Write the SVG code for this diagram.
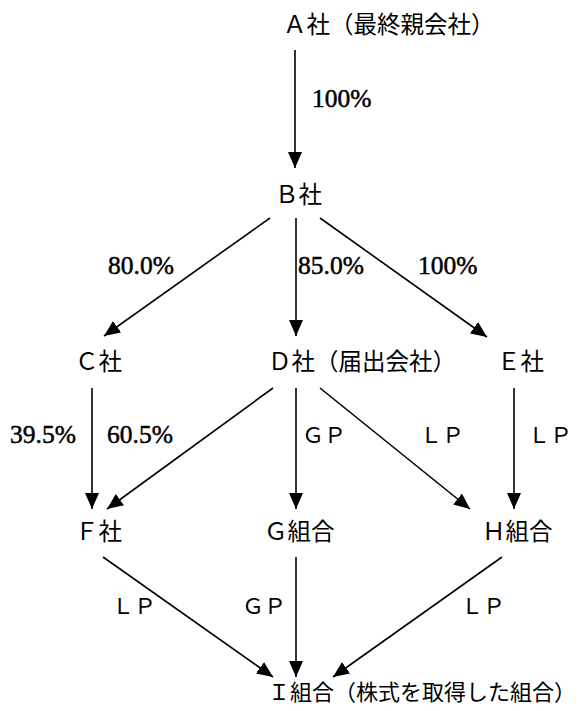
<svg xmlns="http://www.w3.org/2000/svg" width="585" height="711" viewBox="0 0 585 711">
<style>
.n{font-family:"Noto Sans CJK JP","DejaVu Serif",sans-serif;font-size:23.5px;fill:#000}
.p{font-family:"Liberation Serif","Noto Sans CJK JP",serif;font-size:25.5px;fill:#000;stroke:#000;stroke-width:0.5}
.l{font-family:"Noto Sans CJK JP",sans-serif;font-size:22px;fill:#000}
.c line{stroke:#000;stroke-width:1.6;marker-end:url(#ah)}
</style>
<defs>
<marker id="ah" markerUnits="userSpaceOnUse" markerWidth="16" markerHeight="14" refX="16" refY="7" orient="auto">
<path d="M0,0 L16,7 L0,14 Z" fill="#000"/>
</marker>
</defs>
<rect width="585" height="711" fill="#fff"/>
<g class="c" id="connectors">
<line x1="295" y1="50" x2="295" y2="168"/>
<line x1="270" y1="218" x2="104" y2="336"/>
<line x1="296" y1="218" x2="296" y2="336"/>
<line x1="320" y1="218" x2="487" y2="337"/>
<line x1="92" y1="388" x2="92" y2="509"/>
<line x1="273" y1="388" x2="107" y2="509"/>
<line x1="296" y1="388" x2="296" y2="509"/>
<line x1="320" y1="388" x2="470" y2="509"/>
<line x1="514" y1="388" x2="514" y2="509"/>
<line x1="103" y1="557" x2="273" y2="677"/>
<line x1="296" y1="557" x2="296" y2="677"/>
<line x1="502" y1="557" x2="333" y2="677"/>
</g>
<g id="labels">
<text class="p" x="312" y="107">100%</text>
<text class="p" x="108" y="274">80.0%</text>
<text class="p" x="298" y="274">85.0%</text>
<text class="p" x="418" y="274">100%</text>
<text class="p" x="10" y="443">39.5%</text>
<text class="p" x="107" y="443">60.5%</text>
<text class="l" x="302" y="443">ＧＰ</text>
<text class="l" x="420" y="443">ＬＰ</text>
<text class="l" x="528" y="443">ＬＰ</text>
<text class="l" x="112" y="614">ＬＰ</text>
<text class="l" x="242" y="614">ＧＰ</text>
<text class="l" x="461" y="614">ＬＰ</text>
</g>
<g id="nodeA"><text class="n" x="283" y="33">Ａ社（最終親会社）</text></g>
<g id="nodeB"><text class="n" x="275" y="203">Ｂ社</text></g>
<g id="nodeC"><text class="n" x="75" y="370">Ｃ社</text></g>
<g id="nodeD"><text class="n" x="268" y="370">Ｄ社（届出会社）</text></g>
<g id="nodeE"><text class="n" x="497" y="370">Ｅ社</text></g>
<g id="nodeF"><text class="n" x="75" y="540">Ｆ社</text></g>
<g id="nodeG"><text class="n" x="264" y="540">Ｇ組合</text></g>
<g id="nodeH"><text class="n" x="482" y="540">Ｈ組合</text></g>
<g id="nodeI"><text class="n" x="268" y="700" style="font-size:22px">Ｉ組合（株式を取得した組合）</text></g>
</svg>
